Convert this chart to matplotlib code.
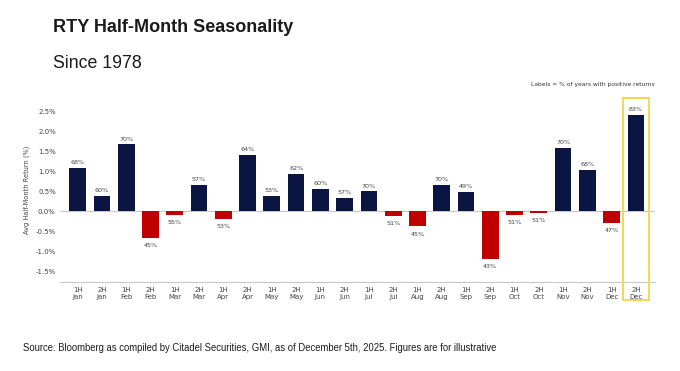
import matplotlib as mpl
mpl.use("Agg")
import matplotlib.pyplot as plt
from matplotlib.patches import Rectangle
import numpy as np

halves = ["1H", "2H"] * 12
months = ["Jan", "Jan", "Feb", "Feb", "Mar", "Mar", "Apr", "Apr", "May", "May",
          "Jun", "Jun", "Jul", "Jul", "Aug", "Aug", "Sep", "Sep", "Oct", "Oct",
          "Nov", "Nov", "Dec", "Dec"]
avg_return = [1.09, 0.39, 1.67, -0.66, -0.09, 0.66, -0.18, 1.40, 0.39, 0.94,
              0.57, 0.33, 0.50, -0.11, -0.37, 0.67, 0.48, -1.19, -0.08, -0.03,
              1.59, 1.03, -0.29, 2.41]
pct_positive = [68, 60, 70, 45, 55, 57, 53, 64, 53, 62, 60, 57,
                70, 51, 45, 70, 49, 43, 51, 51, 70, 68, 47, 83]
yticks = [-1.5, -1.0, -0.5, 0.0, 0.5, 1.0, 1.5, 2.0, 2.5]

navy = "#0b1541"
red = "#c00000"
gold = "#f3d95a"
grey_txt = "#444444"

fig = plt.figure(figsize=(6.8, 3.71), dpi=100, facecolor="w")
ax = fig.add_axes([0.0882, 0.2407, 0.8748, 0.4978])

x = np.arange(len(avg_return))
cols = [navy if v >= 0 else red for v in avg_return]
ax.bar(x, avg_return, width=0.69, color=cols, zorder=3)

for xi, v, p in zip(x, avg_return, pct_positive):
    if v >= 0:
        ax.annotate("%d%%" % p, (xi, v), xytext=(0, 2.0), textcoords="offset points",
                    ha="center", va="bottom", fontsize=4.6, color=grey_txt,
                    family="DejaVu Sans")
    else:
        ax.annotate("%d%%" % p, (xi, v), xytext=(0, -3.8), textcoords="offset points",
                    ha="center", va="top", fontsize=4.6, color=grey_txt,
                    family="DejaVu Sans")

ax.axhline(0, color="#c8c8c8", linewidth=0.8, zorder=2)

ax.set_xlim(-0.73, 23.78)
ax.set_ylim(-1.75, 2.85)
ax.set_yticks(yticks)
ax.set_yticklabels(["%.1f%%" % t for t in yticks])
ax.set_xticks(x)
ax.set_xticklabels(["%s\n%s" % (h, m) for h, m in zip(halves, months)])
ax.tick_params(axis="both", length=0, labelsize=5.0, labelcolor=grey_txt)
ax.tick_params(axis="x", pad=3.5)
ax.tick_params(axis="y", pad=3)
for s in ["top", "right", "left"]:
    ax.spines[s].set_visible(False)
ax.spines["bottom"].set_color("#c8c8c8")
ax.spines["bottom"].set_linewidth(0.8)
ax.set_ylabel("Avg Half-Month Return (%)", fontsize=4.8, color=grey_txt, labelpad=4)

# highlight box around the last bar
last = x[-1]
ax.add_patch(Rectangle((last - 0.53, -2.2), 1.07, 5.02, fill=False,
                       edgecolor=gold, linewidth=1.5, clip_on=False, zorder=4))

fig.text(0.963, 0.773, "Labels = % of years with positive returns", ha="right",
         va="center", fontsize=4.3, color="#333333")

fig.text(0.078, 0.927, "RTY Half-Month Seasonality", ha="left", va="center",
         fontsize=13, fontweight="bold", family="Liberation Sans", color="#1a1a1a")
fig.text(0.078, 0.830, "Since 1978", ha="left", va="center",
         fontsize=12.8, family="Liberation Sans", color="#1a1a1a")
fig.text(0.034, 0.062, "Source: Bloomberg as compiled by Citadel Securities, GMI, as of "
         "December 5th, 2025. Figures are for illustrative", ha="left", va="center",
         fontsize=6.85, family="Liberation Sans", color="#1a1a1a")

plt.savefig("out.png", dpi=100)
